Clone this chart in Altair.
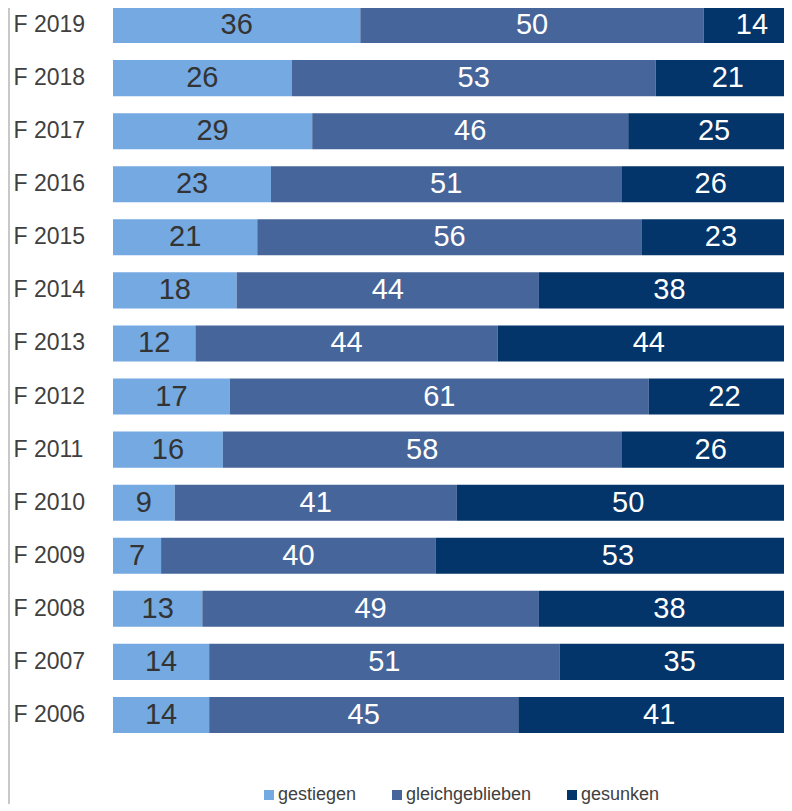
import altair as alt
import pandas as pd

years = ["F 2019", "F 2018", "F 2017", "F 2016", "F 2015", "F 2014", "F 2013",
         "F 2012", "F 2011", "F 2010", "F 2009", "F 2008", "F 2007", "F 2006"]
categories = ["gestiegen", "gleichgeblieben", "gesunken"]
gestiegen = [36, 26, 29, 23, 21, 18, 12, 17, 16, 9, 7, 13, 14, 14]
gleichgeblieben = [50, 53, 46, 51, 56, 44, 44, 61, 58, 41, 40, 49, 51, 45]
gesunken = [14, 21, 25, 26, 23, 38, 44, 22, 26, 50, 53, 38, 35, 41]
colors = ["#75A9E1", "#46659A", "#03346A"]

rows = []
for i, y in enumerate(years):
    for j, (cat, vals) in enumerate(zip(categories, [gestiegen, gleichgeblieben, gesunken])):
        rows.append({"year": y, "cat": cat, "order": j, "value": vals[i]})
df = pd.DataFrame(rows)

FONT = "Liberation Sans"

base = alt.Chart(df).transform_stack(
    stack="value", as_=["x0", "x1"], groupby=["year"],
    sort=[alt.SortField("order", order="ascending")]
).transform_calculate(mid="(datum.x0 + datum.x1) / 2")

yenc = alt.Y("year:N", sort=years,
             scale=alt.Scale(paddingInner=0.32, paddingOuter=0.132),
             axis=alt.Axis(title=None, ticks=False, domain=False, grid=False,
                           labelAlign="left", labelPadding=100, labelFontSize=23,
                           labelFont=FONT, labelColor="#404040"))
xscale = alt.Scale(domain=[0, 98.84], nice=False, zero=False)

bars = base.mark_bar(clip=True).encode(
    x=alt.X("x0:Q", scale=xscale, axis=None),
    x2="x1:Q",
    y=yenc,
    color=alt.Color("cat:N", sort=categories,
                    scale=alt.Scale(domain=categories, range=colors),
                    legend=alt.Legend(title=None, orient="none", legendX=147, legendY=786,
                                      direction="horizontal", columns=3,
                                      symbolType="square", symbolSize=100,
                                      symbolStrokeWidth=0,
                                      labelFont=FONT, labelFontSize=18,
                                      labelColor="#404040", labelOffset=0,
                                      columnPadding=31)),
)

labels = base.mark_text(font=FONT, fontSize=29, baseline="middle", align="center").encode(
    x=alt.X("mid:Q", scale=xscale),
    y=alt.Y("year:N", sort=years),
    text="value:Q",
    color=alt.condition(alt.datum.cat == "gestiegen", alt.value("#333333"), alt.value("#ffffff")),
)

border = alt.Chart(pd.DataFrame({"v": [0]})).mark_rule(color="#c8c8c8", strokeWidth=2).encode(
    x=alt.value(-104), y=alt.value(0), y2=alt.value(811)
)

chart = alt.layer(bars, labels, border).properties(
    width=679, height=740,
    padding={"left": 105, "top": -8, "right": -8, "bottom": 64},
    autosize=alt.AutoSizeParams(type="none"),
).configure_view(stroke=None)

chart.save("out.html", embed_options={"renderer": "svg", "actions": False})
